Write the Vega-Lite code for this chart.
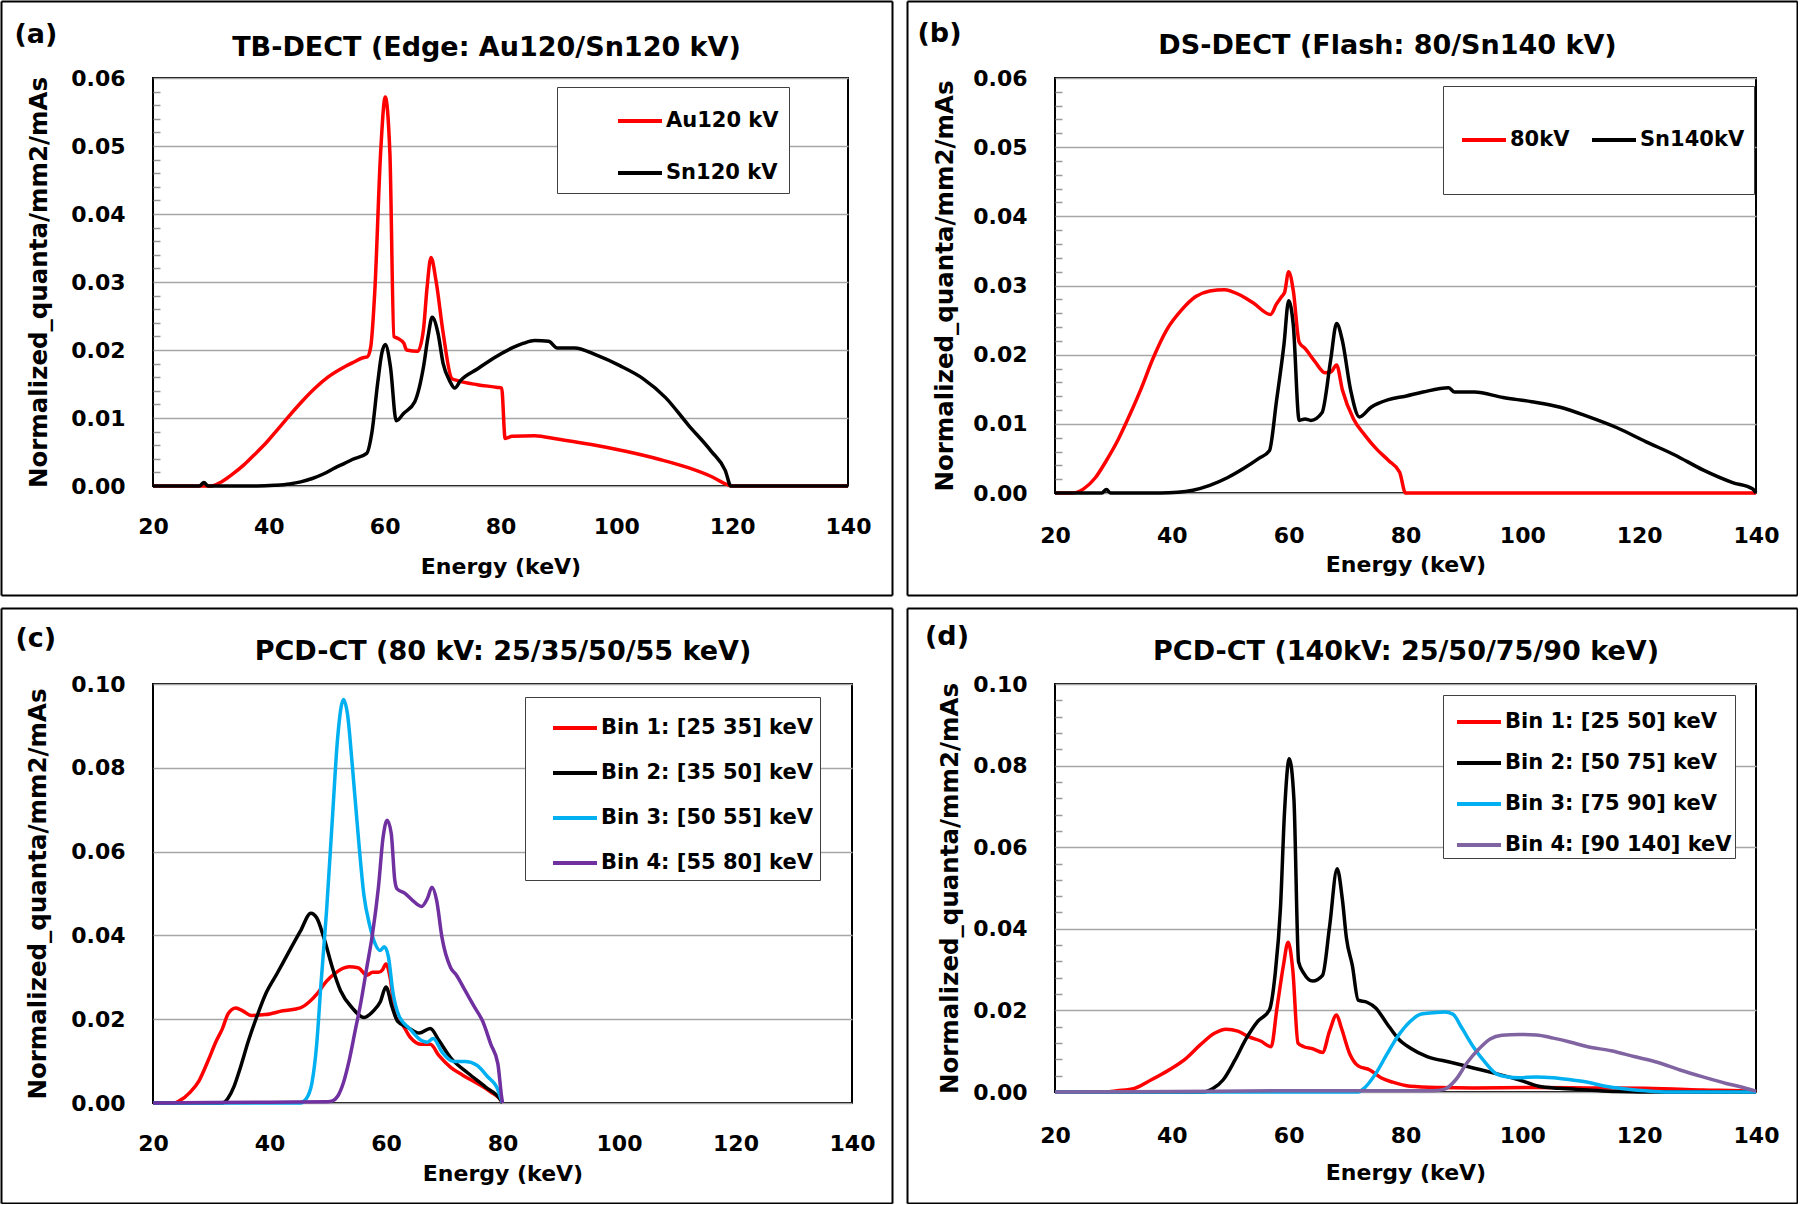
{
  "$schema": "https://vega.github.io/schema/vega-lite/v6.json",
  "background": "#FFFFFF",
  "padding": 0,
  "columns": 2,
  "spacing": {"row": 11, "column": 13},
  "datasets": {
    "a": [
      {"E":20,"q":0,"s":"Au120 kV"},{"E":28,"q":0,"s":"Au120 kV"},{"E":30,"q":0,"s":"Au120 kV"},{"E":31.8,"q":0.0006,"s":"Au120 kV"},{"E":33.5,"q":0.0016,"s":"Au120 kV"},{"E":35.7,"q":0.0031,"s":"Au120 kV"},{"E":37.5,"q":0.0046,"s":"Au120 kV"},{"E":39.7,"q":0.0065,"s":"Au120 kV"},{"E":41.5,"q":0.0083,"s":"Au120 kV"},{"E":43.6,"q":0.0104,"s":"Au120 kV"},{"E":45.8,"q":0.0125,"s":"Au120 kV"},{"E":48,"q":0.0144,"s":"Au120 kV"},{"E":50.2,"q":0.016,"s":"Au120 kV"},{"E":52.4,"q":0.0172,"s":"Au120 kV"},{"E":54.4,"q":0.0181,"s":"Au120 kV"},{"E":56.4,"q":0.0189,"s":"Au120 kV"},{"E":57,"q":0.019,"s":"Au120 kV"},{"E":57.6,"q":0.0205,"s":"Au120 kV"},{"E":58.3,"q":0.0287,"s":"Au120 kV"},{"E":59.3,"q":0.049,"s":"Au120 kV"},{"E":60.1,"q":0.0572,"s":"Au120 kV"},{"E":60.9,"q":0.049,"s":"Au120 kV"},{"E":61.6,"q":0.022,"s":"Au120 kV"},{"E":62.3,"q":0.0217,"s":"Au120 kV"},{"E":63.3,"q":0.021,"s":"Au120 kV"},{"E":63.8,"q":0.02,"s":"Au120 kV"},{"E":65.7,"q":0.0198,"s":"Au120 kV"},{"E":66.7,"q":0.023,"s":"Au120 kV"},{"E":67.3,"q":0.029,"s":"Au120 kV"},{"E":68,"q":0.0336,"s":"Au120 kV"},{"E":68.9,"q":0.03,"s":"Au120 kV"},{"E":70.1,"q":0.0225,"s":"Au120 kV"},{"E":71.6,"q":0.0158,"s":"Au120 kV"},{"E":72.6,"q":0.0155,"s":"Au120 kV"},{"E":76,"q":0.0149,"s":"Au120 kV"},{"E":79.5,"q":0.0145,"s":"Au120 kV"},{"E":80.2,"q":0.0144,"s":"Au120 kV"},{"E":80.8,"q":0.007,"s":"Au120 kV"},{"E":82,"q":0.0073,"s":"Au120 kV"},{"E":85.9,"q":0.0074,"s":"Au120 kV"},{"E":89.8,"q":0.0069,"s":"Au120 kV"},{"E":95.7,"q":0.0061,"s":"Au120 kV"},{"E":101.6,"q":0.0051,"s":"Au120 kV"},{"E":107.5,"q":0.0039,"s":"Au120 kV"},{"E":112.4,"q":0.0027,"s":"Au120 kV"},{"E":116.4,"q":0.0014,"s":"Au120 kV"},{"E":119.5,"q":0.0001,"s":"Au120 kV"},{"E":120,"q":0,"s":"Au120 kV"},{"E":140,"q":0,"s":"Au120 kV"},
      {"E":20,"q":0,"s":"Sn120 kV"},{"E":28,"q":0,"s":"Sn120 kV"},{"E":28.8,"q":0.0005,"s":"Sn120 kV"},{"E":29.5,"q":0,"s":"Sn120 kV"},{"E":38,"q":0,"s":"Sn120 kV"},{"E":41,"q":0.0001,"s":"Sn120 kV"},{"E":43.6,"q":0.0003,"s":"Sn120 kV"},{"E":45.5,"q":0.0006,"s":"Sn120 kV"},{"E":47.5,"q":0.0011,"s":"Sn120 kV"},{"E":49.5,"q":0.0018,"s":"Sn120 kV"},{"E":51.5,"q":0.0027,"s":"Sn120 kV"},{"E":53,"q":0.0033,"s":"Sn120 kV"},{"E":54.4,"q":0.0039,"s":"Sn120 kV"},{"E":56.9,"q":0.0048,"s":"Sn120 kV"},{"E":57.8,"q":0.0079,"s":"Sn120 kV"},{"E":58.8,"q":0.0152,"s":"Sn120 kV"},{"E":59.5,"q":0.0195,"s":"Sn120 kV"},{"E":60.1,"q":0.0208,"s":"Sn120 kV"},{"E":61,"q":0.0175,"s":"Sn120 kV"},{"E":62,"q":0.0096,"s":"Sn120 kV"},{"E":63.3,"q":0.0107,"s":"Sn120 kV"},{"E":65.2,"q":0.0124,"s":"Sn120 kV"},{"E":66.7,"q":0.0175,"s":"Sn120 kV"},{"E":67.5,"q":0.022,"s":"Sn120 kV"},{"E":68.2,"q":0.0248,"s":"Sn120 kV"},{"E":69.2,"q":0.0225,"s":"Sn120 kV"},{"E":70.1,"q":0.018,"s":"Sn120 kV"},{"E":71.2,"q":0.0155,"s":"Sn120 kV"},{"E":72.1,"q":0.0144,"s":"Sn120 kV"},{"E":73.1,"q":0.0155,"s":"Sn120 kV"},{"E":76,"q":0.0172,"s":"Sn120 kV"},{"E":79,"q":0.0189,"s":"Sn120 kV"},{"E":82,"q":0.0203,"s":"Sn120 kV"},{"E":84,"q":0.021,"s":"Sn120 kV"},{"E":85.9,"q":0.0214,"s":"Sn120 kV"},{"E":88.3,"q":0.0213,"s":"Sn120 kV"},{"E":89.8,"q":0.0203,"s":"Sn120 kV"},{"E":92.8,"q":0.0203,"s":"Sn120 kV"},{"E":96.7,"q":0.0192,"s":"Sn120 kV"},{"E":100.6,"q":0.0177,"s":"Sn120 kV"},{"E":104.6,"q":0.0158,"s":"Sn120 kV"},{"E":108.5,"q":0.013,"s":"Sn120 kV"},{"E":112.4,"q":0.009,"s":"Sn120 kV"},{"E":116.4,"q":0.0051,"s":"Sn120 kV"},{"E":118.8,"q":0.0023,"s":"Sn120 kV"},{"E":119.8,"q":0,"s":"Sn120 kV"},{"E":140,"q":0,"s":"Sn120 kV"}
    ],
    "b": [
      {"E":20,"q":0,"s":"80kV"},{"E":22.9,"q":0,"s":"80kV"},{"E":24.9,"q":0.0006,"s":"80kV"},{"E":26.9,"q":0.0022,"s":"80kV"},{"E":28.8,"q":0.0047,"s":"80kV"},{"E":30.8,"q":0.0077,"s":"80kV"},{"E":32.8,"q":0.0113,"s":"80kV"},{"E":34.8,"q":0.0152,"s":"80kV"},{"E":36.7,"q":0.0193,"s":"80kV"},{"E":39.2,"q":0.0237,"s":"80kV"},{"E":41.6,"q":0.0264,"s":"80kV"},{"E":44.1,"q":0.0284,"s":"80kV"},{"E":46.5,"q":0.0292,"s":"80kV"},{"E":49,"q":0.0294,"s":"80kV"},{"E":51.5,"q":0.0287,"s":"80kV"},{"E":53.9,"q":0.0275,"s":"80kV"},{"E":56.9,"q":0.0258,"s":"80kV"},{"E":57.9,"q":0.0273,"s":"80kV"},{"E":58.8,"q":0.0284,"s":"80kV"},{"E":59.3,"q":0.029,"s":"80kV"},{"E":60,"q":0.032,"s":"80kV"},{"E":60.8,"q":0.0292,"s":"80kV"},{"E":61.8,"q":0.0218,"s":"80kV"},{"E":62.8,"q":0.0209,"s":"80kV"},{"E":64.5,"q":0.019,"s":"80kV"},{"E":66.2,"q":0.0174,"s":"80kV"},{"E":67.2,"q":0.0175,"s":"80kV"},{"E":68.2,"q":0.0185,"s":"80kV"},{"E":69.2,"q":0.0149,"s":"80kV"},{"E":71.1,"q":0.0107,"s":"80kV"},{"E":73.1,"q":0.0083,"s":"80kV"},{"E":75.1,"q":0.0063,"s":"80kV"},{"E":77.1,"q":0.0047,"s":"80kV"},{"E":79,"q":0.003,"s":"80kV"},{"E":80,"q":0,"s":"80kV"},{"E":140,"q":0,"s":"80kV"},
      {"E":20,"q":0,"s":"Sn140kV"},{"E":28,"q":0,"s":"Sn140kV"},{"E":28.8,"q":0.0005,"s":"Sn140kV"},{"E":29.5,"q":0,"s":"Sn140kV"},{"E":38,"q":0,"s":"Sn140kV"},{"E":41,"q":0.0001,"s":"Sn140kV"},{"E":43.6,"q":0.0004,"s":"Sn140kV"},{"E":46.5,"q":0.0011,"s":"Sn140kV"},{"E":49.5,"q":0.0022,"s":"Sn140kV"},{"E":52.4,"q":0.0036,"s":"Sn140kV"},{"E":54.9,"q":0.005,"s":"Sn140kV"},{"E":56.7,"q":0.0061,"s":"Sn140kV"},{"E":57.9,"q":0.0132,"s":"Sn140kV"},{"E":59.2,"q":0.0215,"s":"Sn140kV"},{"E":60,"q":0.0278,"s":"Sn140kV"},{"E":60.8,"q":0.0242,"s":"Sn140kV"},{"E":61.8,"q":0.0105,"s":"Sn140kV"},{"E":62.8,"q":0.0107,"s":"Sn140kV"},{"E":63.8,"q":0.0105,"s":"Sn140kV"},{"E":65.7,"q":0.0116,"s":"Sn140kV"},{"E":67.2,"q":0.0193,"s":"Sn140kV"},{"E":68.2,"q":0.0245,"s":"Sn140kV"},{"E":69.2,"q":0.022,"s":"Sn140kV"},{"E":70.6,"q":0.0149,"s":"Sn140kV"},{"E":72.1,"q":0.011,"s":"Sn140kV"},{"E":74.1,"q":0.0124,"s":"Sn140kV"},{"E":77.1,"q":0.0135,"s":"Sn140kV"},{"E":80,"q":0.014,"s":"Sn140kV"},{"E":83,"q":0.0146,"s":"Sn140kV"},{"E":87.4,"q":0.0152,"s":"Sn140kV"},{"E":88.4,"q":0.0146,"s":"Sn140kV"},{"E":91.8,"q":0.0146,"s":"Sn140kV"},{"E":96.7,"q":0.0138,"s":"Sn140kV"},{"E":101.6,"q":0.0132,"s":"Sn140kV"},{"E":106.5,"q":0.0124,"s":"Sn140kV"},{"E":111.4,"q":0.011,"s":"Sn140kV"},{"E":116.3,"q":0.0094,"s":"Sn140kV"},{"E":121.2,"q":0.0074,"s":"Sn140kV"},{"E":126.1,"q":0.0055,"s":"Sn140kV"},{"E":131,"q":0.0033,"s":"Sn140kV"},{"E":136,"q":0.0015,"s":"Sn140kV"},{"E":139.4,"q":0.0006,"s":"Sn140kV"},{"E":140,"q":0,"s":"Sn140kV"}
    ],
    "c": [
      {"E":20,"q":0,"s":"Bin 1: [25 35] keV"},{"E":23.5,"q":0,"s":"Bin 1: [25 35] keV"},{"E":24.5,"q":0.0005,"s":"Bin 1: [25 35] keV"},{"E":26.4,"q":0.0026,"s":"Bin 1: [25 35] keV"},{"E":27.9,"q":0.0053,"s":"Bin 1: [25 35] keV"},{"E":29.4,"q":0.0099,"s":"Bin 1: [25 35] keV"},{"E":30.9,"q":0.0149,"s":"Bin 1: [25 35] keV"},{"E":31.9,"q":0.0177,"s":"Bin 1: [25 35] keV"},{"E":32.9,"q":0.0213,"s":"Bin 1: [25 35] keV"},{"E":34.2,"q":0.0227,"s":"Bin 1: [25 35] keV"},{"E":35.4,"q":0.022,"s":"Bin 1: [25 35] keV"},{"E":36.9,"q":0.0209,"s":"Bin 1: [25 35] keV"},{"E":39.3,"q":0.0211,"s":"Bin 1: [25 35] keV"},{"E":42.3,"q":0.022,"s":"Bin 1: [25 35] keV"},{"E":45.3,"q":0.0227,"s":"Bin 1: [25 35] keV"},{"E":46.8,"q":0.0241,"s":"Bin 1: [25 35] keV"},{"E":48.3,"q":0.0263,"s":"Bin 1: [25 35] keV"},{"E":49.8,"q":0.0291,"s":"Bin 1: [25 35] keV"},{"E":51.2,"q":0.0309,"s":"Bin 1: [25 35] keV"},{"E":53.7,"q":0.0325,"s":"Bin 1: [25 35] keV"},{"E":55.2,"q":0.0323,"s":"Bin 1: [25 35] keV"},{"E":56.7,"q":0.0305,"s":"Bin 1: [25 35] keV"},{"E":57.7,"q":0.0312,"s":"Bin 1: [25 35] keV"},{"E":58.7,"q":0.0312,"s":"Bin 1: [25 35] keV"},{"E":59.4,"q":0.0318,"s":"Bin 1: [25 35] keV"},{"E":60,"q":0.0332,"s":"Bin 1: [25 35] keV"},{"E":60.7,"q":0.03,"s":"Bin 1: [25 35] keV"},{"E":61.7,"q":0.0204,"s":"Bin 1: [25 35] keV"},{"E":62.7,"q":0.019,"s":"Bin 1: [25 35] keV"},{"E":64.1,"q":0.0158,"s":"Bin 1: [25 35] keV"},{"E":66.1,"q":0.014,"s":"Bin 1: [25 35] keV"},{"E":67.6,"q":0.014,"s":"Bin 1: [25 35] keV"},{"E":69.1,"q":0.0113,"s":"Bin 1: [25 35] keV"},{"E":71.1,"q":0.0085,"s":"Bin 1: [25 35] keV"},{"E":73.1,"q":0.0067,"s":"Bin 1: [25 35] keV"},{"E":76,"q":0.0044,"s":"Bin 1: [25 35] keV"},{"E":78,"q":0.0026,"s":"Bin 1: [25 35] keV"},{"E":79.8,"q":0.0005,"s":"Bin 1: [25 35] keV"},{"E":80,"q":0,"s":"Bin 1: [25 35] keV"},
      {"E":20,"q":0,"s":"Bin 2: [35 50] keV"},{"E":31.9,"q":0,"s":"Bin 2: [35 50] keV"},{"E":32.9,"q":0.0012,"s":"Bin 2: [35 50] keV"},{"E":33.9,"q":0.0039,"s":"Bin 2: [35 50] keV"},{"E":34.9,"q":0.008,"s":"Bin 2: [35 50] keV"},{"E":36.4,"q":0.0149,"s":"Bin 2: [35 50] keV"},{"E":37.9,"q":0.0209,"s":"Bin 2: [35 50] keV"},{"E":39.3,"q":0.0259,"s":"Bin 2: [35 50] keV"},{"E":41.3,"q":0.0309,"s":"Bin 2: [35 50] keV"},{"E":43.3,"q":0.036,"s":"Bin 2: [35 50] keV"},{"E":45.3,"q":0.041,"s":"Bin 2: [35 50] keV"},{"E":47.1,"q":0.0453,"s":"Bin 2: [35 50] keV"},{"E":48.1,"q":0.0442,"s":"Bin 2: [35 50] keV"},{"E":49.3,"q":0.0396,"s":"Bin 2: [35 50] keV"},{"E":50.8,"q":0.0323,"s":"Bin 2: [35 50] keV"},{"E":52.2,"q":0.0268,"s":"Bin 2: [35 50] keV"},{"E":54.2,"q":0.0227,"s":"Bin 2: [35 50] keV"},{"E":56.2,"q":0.0204,"s":"Bin 2: [35 50] keV"},{"E":57.7,"q":0.0218,"s":"Bin 2: [35 50] keV"},{"E":59,"q":0.0241,"s":"Bin 2: [35 50] keV"},{"E":60,"q":0.0277,"s":"Bin 2: [35 50] keV"},{"E":61,"q":0.0231,"s":"Bin 2: [35 50] keV"},{"E":62,"q":0.0195,"s":"Bin 2: [35 50] keV"},{"E":63.7,"q":0.0181,"s":"Bin 2: [35 50] keV"},{"E":65.7,"q":0.0167,"s":"Bin 2: [35 50] keV"},{"E":67.6,"q":0.0178,"s":"Bin 2: [35 50] keV"},{"E":69.1,"q":0.0149,"s":"Bin 2: [35 50] keV"},{"E":71.1,"q":0.0108,"s":"Bin 2: [35 50] keV"},{"E":74.1,"q":0.0071,"s":"Bin 2: [35 50] keV"},{"E":77.1,"q":0.0038,"s":"Bin 2: [35 50] keV"},{"E":79.8,"q":0.0005,"s":"Bin 2: [35 50] keV"},{"E":80,"q":0,"s":"Bin 2: [35 50] keV"},
      {"E":20,"q":0,"s":"Bin 3: [50 55] keV"},{"E":45.3,"q":0,"s":"Bin 3: [50 55] keV"},{"E":46.3,"q":0.001,"s":"Bin 3: [50 55] keV"},{"E":47.3,"q":0.0049,"s":"Bin 3: [50 55] keV"},{"E":48.1,"q":0.014,"s":"Bin 3: [50 55] keV"},{"E":48.8,"q":0.0277,"s":"Bin 3: [50 55] keV"},{"E":49.8,"q":0.046,"s":"Bin 3: [50 55] keV"},{"E":50.8,"q":0.068,"s":"Bin 3: [50 55] keV"},{"E":51.7,"q":0.0872,"s":"Bin 3: [50 55] keV"},{"E":52.7,"q":0.0963,"s":"Bin 3: [50 55] keV"},{"E":53.4,"q":0.0927,"s":"Bin 3: [50 55] keV"},{"E":54.2,"q":0.0808,"s":"Bin 3: [50 55] keV"},{"E":55.2,"q":0.0643,"s":"Bin 3: [50 55] keV"},{"E":56.2,"q":0.0497,"s":"Bin 3: [50 55] keV"},{"E":57.2,"q":0.0424,"s":"Bin 3: [50 55] keV"},{"E":58.2,"q":0.0378,"s":"Bin 3: [50 55] keV"},{"E":59,"q":0.0364,"s":"Bin 3: [50 55] keV"},{"E":59.7,"q":0.0373,"s":"Bin 3: [50 55] keV"},{"E":60.4,"q":0.035,"s":"Bin 3: [50 55] keV"},{"E":61.2,"q":0.0263,"s":"Bin 3: [50 55] keV"},{"E":62.2,"q":0.0209,"s":"Bin 3: [50 55] keV"},{"E":64.1,"q":0.0177,"s":"Bin 3: [50 55] keV"},{"E":66.1,"q":0.0149,"s":"Bin 3: [50 55] keV"},{"E":67.1,"q":0.0145,"s":"Bin 3: [50 55] keV"},{"E":68.1,"q":0.0154,"s":"Bin 3: [50 55] keV"},{"E":69.6,"q":0.0122,"s":"Bin 3: [50 55] keV"},{"E":71.6,"q":0.0099,"s":"Bin 3: [50 55] keV"},{"E":73.6,"q":0.0099,"s":"Bin 3: [50 55] keV"},{"E":75.6,"q":0.009,"s":"Bin 3: [50 55] keV"},{"E":77.5,"q":0.0062,"s":"Bin 3: [50 55] keV"},{"E":79,"q":0.0038,"s":"Bin 3: [50 55] keV"},{"E":79.8,"q":0.0008,"s":"Bin 3: [50 55] keV"},{"E":80,"q":0,"s":"Bin 3: [50 55] keV"},
      {"E":20,"q":0,"s":"Bin 4: [55 80] keV"},{"E":40,"q":0.0002,"s":"Bin 4: [55 80] keV"},{"E":50,"q":0.0003,"s":"Bin 4: [55 80] keV"},{"E":50.8,"q":0.0005,"s":"Bin 4: [55 80] keV"},{"E":51.7,"q":0.0016,"s":"Bin 4: [55 80] keV"},{"E":52.7,"q":0.0049,"s":"Bin 4: [55 80] keV"},{"E":53.7,"q":0.0103,"s":"Bin 4: [55 80] keV"},{"E":54.7,"q":0.0172,"s":"Bin 4: [55 80] keV"},{"E":55.7,"q":0.0241,"s":"Bin 4: [55 80] keV"},{"E":56.7,"q":0.0323,"s":"Bin 4: [55 80] keV"},{"E":57.7,"q":0.0405,"s":"Bin 4: [55 80] keV"},{"E":58.7,"q":0.0515,"s":"Bin 4: [55 80] keV"},{"E":59.5,"q":0.0634,"s":"Bin 4: [55 80] keV"},{"E":60.2,"q":0.0675,"s":"Bin 4: [55 80] keV"},{"E":60.9,"q":0.0643,"s":"Bin 4: [55 80] keV"},{"E":61.5,"q":0.0533,"s":"Bin 4: [55 80] keV"},{"E":61.9,"q":0.0511,"s":"Bin 4: [55 80] keV"},{"E":63.2,"q":0.0501,"s":"Bin 4: [55 80] keV"},{"E":64.6,"q":0.0483,"s":"Bin 4: [55 80] keV"},{"E":66.1,"q":0.0469,"s":"Bin 4: [55 80] keV"},{"E":67.1,"q":0.0488,"s":"Bin 4: [55 80] keV"},{"E":67.9,"q":0.0515,"s":"Bin 4: [55 80] keV"},{"E":68.7,"q":0.0483,"s":"Bin 4: [55 80] keV"},{"E":69.6,"q":0.0396,"s":"Bin 4: [55 80] keV"},{"E":71.1,"q":0.0323,"s":"Bin 4: [55 80] keV"},{"E":72.1,"q":0.0305,"s":"Bin 4: [55 80] keV"},{"E":73.6,"q":0.0268,"s":"Bin 4: [55 80] keV"},{"E":75.1,"q":0.0231,"s":"Bin 4: [55 80] keV"},{"E":76.6,"q":0.0195,"s":"Bin 4: [55 80] keV"},{"E":78,"q":0.014,"s":"Bin 4: [55 80] keV"},{"E":79.2,"q":0.0094,"s":"Bin 4: [55 80] keV"},{"E":79.8,"q":0.002,"s":"Bin 4: [55 80] keV"},{"E":80,"q":0,"s":"Bin 4: [55 80] keV"}
    ],
    "d": [
      {"E":20,"q":0,"s":"Bin 1: [25 50] keV"},{"E":28.7,"q":0,"s":"Bin 1: [25 50] keV"},{"E":30.6,"q":0.0003,"s":"Bin 1: [25 50] keV"},{"E":33.6,"q":0.0009,"s":"Bin 1: [25 50] keV"},{"E":36.5,"q":0.003,"s":"Bin 1: [25 50] keV"},{"E":39.5,"q":0.0054,"s":"Bin 1: [25 50] keV"},{"E":42.4,"q":0.0082,"s":"Bin 1: [25 50] keV"},{"E":44.9,"q":0.0116,"s":"Bin 1: [25 50] keV"},{"E":47.3,"q":0.0144,"s":"Bin 1: [25 50] keV"},{"E":49.3,"q":0.0154,"s":"Bin 1: [25 50] keV"},{"E":51.3,"q":0.0149,"s":"Bin 1: [25 50] keV"},{"E":53.2,"q":0.0135,"s":"Bin 1: [25 50] keV"},{"E":55.2,"q":0.0125,"s":"Bin 1: [25 50] keV"},{"E":57,"q":0.0111,"s":"Bin 1: [25 50] keV"},{"E":58,"q":0.0206,"s":"Bin 1: [25 50] keV"},{"E":59.1,"q":0.031,"s":"Bin 1: [25 50] keV"},{"E":59.9,"q":0.0367,"s":"Bin 1: [25 50] keV"},{"E":60.7,"q":0.03,"s":"Bin 1: [25 50] keV"},{"E":61.6,"q":0.012,"s":"Bin 1: [25 50] keV"},{"E":62.6,"q":0.0111,"s":"Bin 1: [25 50] keV"},{"E":64.1,"q":0.0106,"s":"Bin 1: [25 50] keV"},{"E":65.8,"q":0.0097,"s":"Bin 1: [25 50] keV"},{"E":67,"q":0.0149,"s":"Bin 1: [25 50] keV"},{"E":68.2,"q":0.0189,"s":"Bin 1: [25 50] keV"},{"E":69,"q":0.0158,"s":"Bin 1: [25 50] keV"},{"E":70.5,"q":0.0092,"s":"Bin 1: [25 50] keV"},{"E":71.9,"q":0.0064,"s":"Bin 1: [25 50] keV"},{"E":73.9,"q":0.0054,"s":"Bin 1: [25 50] keV"},{"E":75.8,"q":0.0035,"s":"Bin 1: [25 50] keV"},{"E":77.8,"q":0.0024,"s":"Bin 1: [25 50] keV"},{"E":80.8,"q":0.0014,"s":"Bin 1: [25 50] keV"},{"E":85.7,"q":0.0011,"s":"Bin 1: [25 50] keV"},{"E":91.6,"q":0.001,"s":"Bin 1: [25 50] keV"},{"E":101.4,"q":0.0011,"s":"Bin 1: [25 50] keV"},{"E":111.2,"q":0.001,"s":"Bin 1: [25 50] keV"},{"E":121.1,"q":0.0009,"s":"Bin 1: [25 50] keV"},{"E":130.9,"q":0.0005,"s":"Bin 1: [25 50] keV"},{"E":139.8,"q":0.0001,"s":"Bin 1: [25 50] keV"},{"E":140,"q":0,"s":"Bin 1: [25 50] keV"},
      {"E":20,"q":0,"s":"Bin 2: [50 75] keV"},{"E":45.4,"q":0,"s":"Bin 2: [50 75] keV"},{"E":47.1,"q":0.0009,"s":"Bin 2: [50 75] keV"},{"E":48.8,"q":0.003,"s":"Bin 2: [50 75] keV"},{"E":50.8,"q":0.0078,"s":"Bin 2: [50 75] keV"},{"E":52.7,"q":0.013,"s":"Bin 2: [50 75] keV"},{"E":54.7,"q":0.0173,"s":"Bin 2: [50 75] keV"},{"E":56.7,"q":0.0201,"s":"Bin 2: [50 75] keV"},{"E":57.7,"q":0.0291,"s":"Bin 2: [50 75] keV"},{"E":58.6,"q":0.0452,"s":"Bin 2: [50 75] keV"},{"E":59.3,"q":0.0689,"s":"Bin 2: [50 75] keV"},{"E":60.1,"q":0.0817,"s":"Bin 2: [50 75] keV"},{"E":60.9,"q":0.0718,"s":"Bin 2: [50 75] keV"},{"E":61.7,"q":0.0319,"s":"Bin 2: [50 75] keV"},{"E":62.6,"q":0.0291,"s":"Bin 2: [50 75] keV"},{"E":64.1,"q":0.0272,"s":"Bin 2: [50 75] keV"},{"E":65.8,"q":0.0286,"s":"Bin 2: [50 75] keV"},{"E":67,"q":0.0405,"s":"Bin 2: [50 75] keV"},{"E":68.3,"q":0.0547,"s":"Bin 2: [50 75] keV"},{"E":69.2,"q":0.0471,"s":"Bin 2: [50 75] keV"},{"E":69.9,"q":0.0376,"s":"Bin 2: [50 75] keV"},{"E":70.9,"q":0.031,"s":"Bin 2: [50 75] keV"},{"E":71.9,"q":0.0225,"s":"Bin 2: [50 75] keV"},{"E":73.4,"q":0.022,"s":"Bin 2: [50 75] keV"},{"E":74.9,"q":0.0206,"s":"Bin 2: [50 75] keV"},{"E":76.8,"q":0.0168,"s":"Bin 2: [50 75] keV"},{"E":78.8,"q":0.013,"s":"Bin 2: [50 75] keV"},{"E":80.8,"q":0.0108,"s":"Bin 2: [50 75] keV"},{"E":83.7,"q":0.0087,"s":"Bin 2: [50 75] keV"},{"E":87.7,"q":0.0073,"s":"Bin 2: [50 75] keV"},{"E":91.6,"q":0.0059,"s":"Bin 2: [50 75] keV"},{"E":95.5,"q":0.0045,"s":"Bin 2: [50 75] keV"},{"E":99.4,"q":0.003,"s":"Bin 2: [50 75] keV"},{"E":102.8,"q":0.0014,"s":"Bin 2: [50 75] keV"},{"E":106.3,"q":0.0009,"s":"Bin 2: [50 75] keV"},{"E":111.2,"q":0.0005,"s":"Bin 2: [50 75] keV"},{"E":116.2,"q":0.0001,"s":"Bin 2: [50 75] keV"},{"E":120,"q":0,"s":"Bin 2: [50 75] keV"},{"E":140,"q":0,"s":"Bin 2: [50 75] keV"},
      {"E":20,"q":0,"s":"Bin 3: [75 90] keV"},{"E":71.9,"q":0,"s":"Bin 3: [75 90] keV"},{"E":72.9,"q":0.0009,"s":"Bin 3: [75 90] keV"},{"E":74.9,"q":0.0045,"s":"Bin 3: [75 90] keV"},{"E":76.8,"q":0.0092,"s":"Bin 3: [75 90] keV"},{"E":78.8,"q":0.0139,"s":"Bin 3: [75 90] keV"},{"E":80.8,"q":0.0173,"s":"Bin 3: [75 90] keV"},{"E":82.7,"q":0.0191,"s":"Bin 3: [75 90] keV"},{"E":84.7,"q":0.0194,"s":"Bin 3: [75 90] keV"},{"E":86.7,"q":0.0196,"s":"Bin 3: [75 90] keV"},{"E":88.1,"q":0.0191,"s":"Bin 3: [75 90] keV"},{"E":89.6,"q":0.0158,"s":"Bin 3: [75 90] keV"},{"E":91.6,"q":0.0111,"s":"Bin 3: [75 90] keV"},{"E":93.6,"q":0.0073,"s":"Bin 3: [75 90] keV"},{"E":95.5,"q":0.0045,"s":"Bin 3: [75 90] keV"},{"E":97.5,"q":0.0037,"s":"Bin 3: [75 90] keV"},{"E":99.4,"q":0.0035,"s":"Bin 3: [75 90] keV"},{"E":102.4,"q":0.0037,"s":"Bin 3: [75 90] keV"},{"E":105.3,"q":0.0035,"s":"Bin 3: [75 90] keV"},{"E":108.3,"q":0.003,"s":"Bin 3: [75 90] keV"},{"E":111.2,"q":0.0024,"s":"Bin 3: [75 90] keV"},{"E":114.2,"q":0.0014,"s":"Bin 3: [75 90] keV"},{"E":118.1,"q":0.0007,"s":"Bin 3: [75 90] keV"},{"E":121.1,"q":0.0003,"s":"Bin 3: [75 90] keV"},{"E":125,"q":0,"s":"Bin 3: [75 90] keV"},{"E":140,"q":0,"s":"Bin 3: [75 90] keV"},
      {"E":20,"q":0,"s":"Bin 4: [90 140] keV"},{"E":40,"q":0.0001,"s":"Bin 4: [90 140] keV"},{"E":60,"q":0.0003,"s":"Bin 4: [90 140] keV"},{"E":84.7,"q":0.0003,"s":"Bin 4: [90 140] keV"},{"E":86.7,"q":0.0007,"s":"Bin 4: [90 140] keV"},{"E":88.6,"q":0.003,"s":"Bin 4: [90 140] keV"},{"E":90.6,"q":0.0073,"s":"Bin 4: [90 140] keV"},{"E":92.6,"q":0.0106,"s":"Bin 4: [90 140] keV"},{"E":94.5,"q":0.013,"s":"Bin 4: [90 140] keV"},{"E":96.5,"q":0.0139,"s":"Bin 4: [90 140] keV"},{"E":99.4,"q":0.0141,"s":"Bin 4: [90 140] keV"},{"E":102.4,"q":0.014,"s":"Bin 4: [90 140] keV"},{"E":105.3,"q":0.0132,"s":"Bin 4: [90 140] keV"},{"E":108.3,"q":0.0122,"s":"Bin 4: [90 140] keV"},{"E":111.2,"q":0.0111,"s":"Bin 4: [90 140] keV"},{"E":115.2,"q":0.0101,"s":"Bin 4: [90 140] keV"},{"E":119.1,"q":0.0087,"s":"Bin 4: [90 140] keV"},{"E":123.1,"q":0.0073,"s":"Bin 4: [90 140] keV"},{"E":127,"q":0.0054,"s":"Bin 4: [90 140] keV"},{"E":130.9,"q":0.0037,"s":"Bin 4: [90 140] keV"},{"E":134.9,"q":0.0021,"s":"Bin 4: [90 140] keV"},{"E":137.8,"q":0.0011,"s":"Bin 4: [90 140] keV"},{"E":140,"q":0.0002,"s":"Bin 4: [90 140] keV"}
    ]
  },
  "concat": [
    {
      "width": 695, "height": 408,
      "title": {"text": "(a)", "anchor": "start", "frame": "bounds", "dx": 13.5, "dy": 52},
      "data": {"name": "a"},
      "layer": [
        {
          "mark": {"type": "line", "strokeWidth": 3.5, "interpolate": "monotone"},
          "encoding": {
            "x": {"field": "E", "type": "quantitative", "scale": {"domain": [20, 140], "nice": false, "zero": false},
                  "axis": {"title": "Energy (keV)", "values": [20, 40, 60, 80, 100, 120, 140], "labelPadding": 30, "titlePadding": 19}},
            "y": {"field": "q", "type": "quantitative", "scale": {"domain": [0, 0.06], "nice": false},
                  "axis": {"title": "Normalized_quanta/mm2/mAs", "values": [0, 0.01, 0.02, 0.03, 0.04, 0.05, 0.06], "format": ".2f", "titlePadding": 19}},
            "color": {"field": "s", "type": "nominal", "scale": {"domain": ["Au120 kV", "Sn120 kV"], "range": ["#FF0000", "#000000"]},
                      "legend": {"legendX": 404, "legendY": 9, "padding": 10, "symbolOffset": 49, "rowPadding": 18}}
          }
        },
        {
          "mark": {"type": "point", "opacity": 0, "size": 0, "strokeWidth": 0},
          "encoding": {
            "x": {"field": "E", "type": "quantitative", "scale": {"domain": [20, 140], "nice": false, "zero": false},
                  "axis": {"orient": "top", "title": "TB-DECT (Edge: Au120/Sn120 kV)", "labels": false, "titlePadding": 17, "titleFontSize": 27, "titleX": 333}},
            "y": {"field": "q", "type": "quantitative", "scale": {"domain": [0, 0.06], "nice": false},
                  "axis": {"orient": "left", "title": null, "labels": false, "grid": false, "domain": false, "ticks": true, "tickSize": -7, "tickWidth": 1.5, "tickColor": "#9A9A9A",
                           "values": [0.002, 0.004, 0.006, 0.008, 0.012, 0.014, 0.016, 0.018, 0.022, 0.024, 0.026, 0.028, 0.032, 0.034, 0.036, 0.038, 0.042, 0.044, 0.046, 0.048, 0.052, 0.054, 0.056, 0.058]}}
          }
        },
        {
          "mark": {"type": "point", "opacity": 0, "size": 0, "strokeWidth": 0},
          "encoding": {
            "x": {"datum": 0.5, "type": "quantitative", "scale": {"domain": [0, 1], "range": [0, 891], "nice": false, "zero": false},
                  "axis": {"orient": "top", "offset": 77, "position": -152, "domain": true, "domainColor": "#000000", "domainWidth": 2, "labels": false, "ticks": false, "grid": false, "title": null}},
            "y": {"datum": 0.5, "type": "quantitative", "scale": {"domain": [0, 1], "range": [594, 0], "nice": false, "zero": false},
                  "axis": {"orient": "left", "offset": 152, "position": -77, "domain": true, "domainColor": "#000000", "domainWidth": 2, "labels": false, "ticks": false, "grid": false, "title": null}}
          }
        },
        {
          "mark": {"type": "point", "opacity": 0, "size": 0, "strokeWidth": 0},
          "encoding": {
            "x": {"datum": 0.5, "type": "quantitative", "scale": {"domain": [0, 1], "range": [0, 891], "nice": false, "zero": false},
                  "axis": {"orient": "bottom", "offset": 109, "position": -152, "domain": true, "domainColor": "#000000", "domainWidth": 2, "labels": false, "ticks": false, "grid": false, "title": null}},
            "y": {"datum": 0.5, "type": "quantitative", "scale": {"domain": [0, 1], "range": [594, 0], "nice": false, "zero": false},
                  "axis": {"orient": "right", "offset": 44, "position": -77, "domain": true, "domainColor": "#000000", "domainWidth": 2, "labels": false, "ticks": false, "grid": false, "title": null}}
          }
        }
      ],
      "resolve": {"scale": {"x": "independent", "y": "independent"}, "axis": {"x": "independent", "y": "independent"}}
    },
    {
      "width": 701, "height": 415,
      "title": {"text": "(b)", "anchor": "start", "frame": "bounds", "dx": 10.5, "dy": 51},
      "data": {"name": "b"},
      "layer": [
        {
          "mark": {"type": "line", "strokeWidth": 3.5, "interpolate": "monotone"},
          "encoding": {
            "x": {"field": "E", "type": "quantitative", "scale": {"domain": [20, 140], "nice": false, "zero": false},
                  "axis": {"title": "Energy (keV)", "values": [20, 40, 60, 80, 100, 120, 140], "labelPadding": 32, "titlePadding": 8}},
            "y": {"field": "q", "type": "quantitative", "scale": {"domain": [0, 0.06], "nice": false},
                  "axis": {"title": "Normalized_quanta/mm2/mAs", "values": [0, 0.01, 0.02, 0.03, 0.04, 0.05, 0.06], "format": ".2f", "titlePadding": 15}},
            "color": {"field": "s", "type": "nominal", "scale": {"domain": ["80kV", "Sn140kV"], "range": ["#FF0000", "#000000"]},
                      "legend": {"legendX": 388, "legendY": 8, "direction": "horizontal", "columns": 2, "padding": 9, "symbolOffset": 8, "columnPadding": 12, "clipHeight": 90}}
          }
        },
        {
          "mark": {"type": "point", "opacity": 0, "size": 0, "strokeWidth": 0},
          "encoding": {
            "x": {"field": "E", "type": "quantitative", "scale": {"domain": [20, 140], "nice": false, "zero": false},
                  "axis": {"orient": "top", "title": "DS-DECT (Flash: 80/Sn140 kV)", "labels": false, "titlePadding": 19, "titleFontSize": 27, "titleX": 332}},
            "y": {"field": "q", "type": "quantitative", "scale": {"domain": [0, 0.06], "nice": false},
                  "axis": {"orient": "left", "title": null, "labels": false, "grid": false, "domain": false, "ticks": true, "tickSize": -7, "tickWidth": 1.5, "tickColor": "#9A9A9A",
                           "values": [0.002, 0.004, 0.006, 0.008, 0.012, 0.014, 0.016, 0.018, 0.022, 0.024, 0.026, 0.028, 0.032, 0.034, 0.036, 0.038, 0.042, 0.044, 0.046, 0.048, 0.052, 0.054, 0.056, 0.058]}}
          }
        },
        {
          "mark": {"type": "point", "opacity": 0, "size": 0, "strokeWidth": 0},
          "encoding": {
            "x": {"datum": 0.5, "type": "quantitative", "scale": {"domain": [0, 1], "range": [0, 890], "nice": false, "zero": false},
                  "axis": {"orient": "top", "offset": 77, "position": -148, "domain": true, "domainColor": "#000000", "domainWidth": 2, "labels": false, "ticks": false, "grid": false, "title": null}},
            "y": {"datum": 0.5, "type": "quantitative", "scale": {"domain": [0, 1], "range": [594, 0], "nice": false, "zero": false},
                  "axis": {"orient": "left", "offset": 148, "position": -77, "domain": true, "domainColor": "#000000", "domainWidth": 2, "labels": false, "ticks": false, "grid": false, "title": null}}
          }
        },
        {
          "mark": {"type": "point", "opacity": 0, "size": 0, "strokeWidth": 0},
          "encoding": {
            "x": {"datum": 0.5, "type": "quantitative", "scale": {"domain": [0, 1], "range": [0, 890], "nice": false, "zero": false},
                  "axis": {"orient": "bottom", "offset": 102, "position": -148, "domain": true, "domainColor": "#000000", "domainWidth": 2, "labels": false, "ticks": false, "grid": false, "title": null}},
            "y": {"datum": 0.5, "type": "quantitative", "scale": {"domain": [0, 1], "range": [594, 0], "nice": false, "zero": false},
                  "axis": {"orient": "right", "offset": 41, "position": -77, "domain": true, "domainColor": "#000000", "domainWidth": 2, "labels": false, "ticks": false, "grid": false, "title": null}}
          }
        }
      ],
      "resolve": {"scale": {"x": "independent", "y": "independent"}, "axis": {"x": "independent", "y": "independent"}}
    },
    {
      "width": 699, "height": 419,
      "title": {"text": "(c)", "anchor": "start", "frame": "bounds", "dx": 14.5, "dy": 48.5},
      "data": {"name": "c"},
      "layer": [
        {
          "mark": {"type": "line", "strokeWidth": 3.5, "interpolate": "monotone"},
          "encoding": {
            "x": {"field": "E", "type": "quantitative", "scale": {"domain": [20, 140], "nice": false, "zero": false},
                  "axis": {"title": "Energy (keV)", "values": [20, 40, 60, 80, 100, 120, 140], "labelPadding": 30, "titlePadding": 9}},
            "y": {"field": "q", "type": "quantitative", "scale": {"domain": [0, 0.1], "nice": false},
                  "axis": {"title": "Normalized_quanta/mm2/mAs", "values": [0, 0.02, 0.04, 0.06, 0.08, 0.1], "format": ".2f", "titlePadding": 20}},
            "color": {"field": "s", "type": "nominal", "scale": {"domain": ["Bin 1: [25 35] keV", "Bin 2: [35 50] keV", "Bin 3: [50 55] keV", "Bin 4: [55 80] keV"], "range": ["#FF0000", "#000000", "#00B0F0", "#7030A0"]},
                      "legend": {"legendX": 372, "legendY": 13, "padding": 7, "symbolOffset": 19, "rowPadding": 11}}
          }
        },
        {
          "mark": {"type": "point", "opacity": 0, "size": 0, "strokeWidth": 0},
          "encoding": {
            "x": {"field": "E", "type": "quantitative", "scale": {"domain": [20, 140], "nice": false, "zero": false},
                  "axis": {"orient": "top", "title": "PCD-CT (80 kV: 25/35/50/55  keV)", "labels": false, "titlePadding": 19, "titleFontSize": 27}}
          }
        },
        {
          "mark": {"type": "point", "opacity": 0, "size": 0, "strokeWidth": 0},
          "encoding": {
            "x": {"datum": 0.5, "type": "quantitative", "scale": {"domain": [0, 1], "range": [0, 891], "nice": false, "zero": false},
                  "axis": {"orient": "top", "offset": 76, "position": -152, "domain": true, "domainColor": "#000000", "domainWidth": 2, "labels": false, "ticks": false, "grid": false, "title": null}},
            "y": {"datum": 0.5, "type": "quantitative", "scale": {"domain": [0, 1], "range": [595, 0], "nice": false, "zero": false},
                  "axis": {"orient": "left", "offset": 152, "position": -76, "domain": true, "domainColor": "#000000", "domainWidth": 2, "labels": false, "ticks": false, "grid": false, "title": null}}
          }
        },
        {
          "mark": {"type": "point", "opacity": 0, "size": 0, "strokeWidth": 0},
          "encoding": {
            "x": {"datum": 0.5, "type": "quantitative", "scale": {"domain": [0, 1], "range": [0, 891], "nice": false, "zero": false},
                  "axis": {"orient": "bottom", "offset": 100, "position": -152, "domain": true, "domainColor": "#000000", "domainWidth": 2, "labels": false, "ticks": false, "grid": false, "title": null}},
            "y": {"datum": 0.5, "type": "quantitative", "scale": {"domain": [0, 1], "range": [595, 0], "nice": false, "zero": false},
                  "axis": {"orient": "right", "offset": 40, "position": -76, "domain": true, "domainColor": "#000000", "domainWidth": 2, "labels": false, "ticks": false, "grid": false, "title": null}}
          }
        }
      ],
      "resolve": {"scale": {"x": "independent", "y": "independent"}, "axis": {"x": "independent", "y": "independent"}}
    },
    {
      "width": 701, "height": 408,
      "title": {"text": "(d)", "anchor": "start", "frame": "bounds", "dx": 18, "dy": 47},
      "data": {"name": "d"},
      "layer": [
        {
          "mark": {"type": "line", "strokeWidth": 3.5, "interpolate": "monotone"},
          "encoding": {
            "x": {"field": "E", "type": "quantitative", "scale": {"domain": [20, 140], "nice": false, "zero": false},
                  "axis": {"title": "Energy (keV)", "values": [20, 40, 60, 80, 100, 120, 140], "labelPadding": 33, "titlePadding": 16}},
            "y": {"field": "q", "type": "quantitative", "scale": {"domain": [0, 0.1], "nice": false},
                  "axis": {"title": "Normalized_quanta/mm2/mAs", "values": [0, 0.02, 0.04, 0.06, 0.08, 0.1], "format": ".2f", "titlePadding": 10}},
            "color": {"field": "s", "type": "nominal", "scale": {"domain": ["Bin 1: [25 50] keV", "Bin 2: [50 75] keV", "Bin 3: [75 90] keV", "Bin 4: [90 140] keV"], "range": ["#FF0000", "#000000", "#00B0F0", "#8064A2"]},
                      "legend": {"legendX": 388, "legendY": 11, "padding": 3, "symbolOffset": 9, "rowPadding": 7}}
          }
        },
        {
          "mark": {"type": "point", "opacity": 0, "size": 0, "strokeWidth": 0},
          "encoding": {
            "x": {"field": "E", "type": "quantitative", "scale": {"domain": [20, 140], "nice": false, "zero": false},
                  "axis": {"orient": "top", "title": "PCD-CT (140kV: 25/50/75/90  keV)", "labels": false, "titlePadding": 18.5, "titleFontSize": 27}},
            "y": {"field": "q", "type": "quantitative", "scale": {"domain": [0, 0.1], "nice": false},
                  "axis": {"orient": "left", "title": null, "labels": false, "grid": false, "domain": false, "ticks": true, "tickSize": -7, "tickWidth": 1.5, "tickColor": "#9A9A9A",
                           "values": [0.004, 0.008, 0.012, 0.016, 0.024, 0.028, 0.032, 0.036, 0.044, 0.048, 0.052, 0.056, 0.064, 0.068, 0.072, 0.076, 0.084, 0.088, 0.092, 0.096]}}
          }
        },
        {
          "mark": {"type": "point", "opacity": 0, "size": 0, "strokeWidth": 0},
          "encoding": {
            "x": {"datum": 0.5, "type": "quantitative", "scale": {"domain": [0, 1], "range": [0, 890], "nice": false, "zero": false},
                  "axis": {"orient": "top", "offset": 76, "position": -148, "domain": true, "domainColor": "#000000", "domainWidth": 2, "labels": false, "ticks": false, "grid": false, "title": null}},
            "y": {"datum": 0.5, "type": "quantitative", "scale": {"domain": [0, 1], "range": [595, 0], "nice": false, "zero": false},
                  "axis": {"orient": "left", "offset": 148, "position": -76, "domain": true, "domainColor": "#000000", "domainWidth": 2, "labels": false, "ticks": false, "grid": false, "title": null}}
          }
        },
        {
          "mark": {"type": "point", "opacity": 0, "size": 0, "strokeWidth": 0},
          "encoding": {
            "x": {"datum": 0.5, "type": "quantitative", "scale": {"domain": [0, 1], "range": [0, 890], "nice": false, "zero": false},
                  "axis": {"orient": "bottom", "offset": 111, "position": -148, "domain": true, "domainColor": "#000000", "domainWidth": 2, "labels": false, "ticks": false, "grid": false, "title": null}},
            "y": {"datum": 0.5, "type": "quantitative", "scale": {"domain": [0, 1], "range": [595, 0], "nice": false, "zero": false},
                  "axis": {"orient": "right", "offset": 41, "position": -76, "domain": true, "domainColor": "#000000", "domainWidth": 2, "labels": false, "ticks": false, "grid": false, "title": null}}
          }
        }
      ],
      "resolve": {"scale": {"x": "independent", "y": "independent"}, "axis": {"x": "independent", "y": "independent"}}
    }
  ],
  "resolve": {"scale": {"color": "independent"}, "legend": {"color": "independent"}},
  "config": {
    "font": "DejaVu Sans",
    "view": {"stroke": "#000000", "strokeWidth": 2},
    "title": {"font": "DejaVu Sans", "fontSize": 27, "fontWeight": "bold", "color": "#000000", "offset": 0},
    "axis": {
      "labelFont": "DejaVu Sans", "labelFontWeight": "bold", "labelFontSize": 22, "labelColor": "#000000",
      "titleFont": "DejaVu Sans", "titleFontWeight": "bold", "titleColor": "#000000",
      "domain": false, "ticks": false, "grid": false, "labelFlush": false, "labelOverlap": false
    },
    "axisX": {"titleFontSize": 22},
    "axisY": {"grid": true, "gridColor": "#A6A6A6", "gridWidth": 1.5, "labelPadding": 28, "titleFontSize": 24.5, "titlePadding": 12},
    "legend": {
      "orient": "none", "title": null,
      "labelFont": "DejaVu Sans", "labelFontWeight": "bold", "labelFontSize": 21, "labelColor": "#000000", "labelOffset": 2, "labelLimit": 400,
      "symbolType": "stroke", "symbolStrokeWidth": 4, "symbolSize": 1936,
      "strokeColor": "#404040", "fillColor": "#FFFFFF"
    }
  }
}
